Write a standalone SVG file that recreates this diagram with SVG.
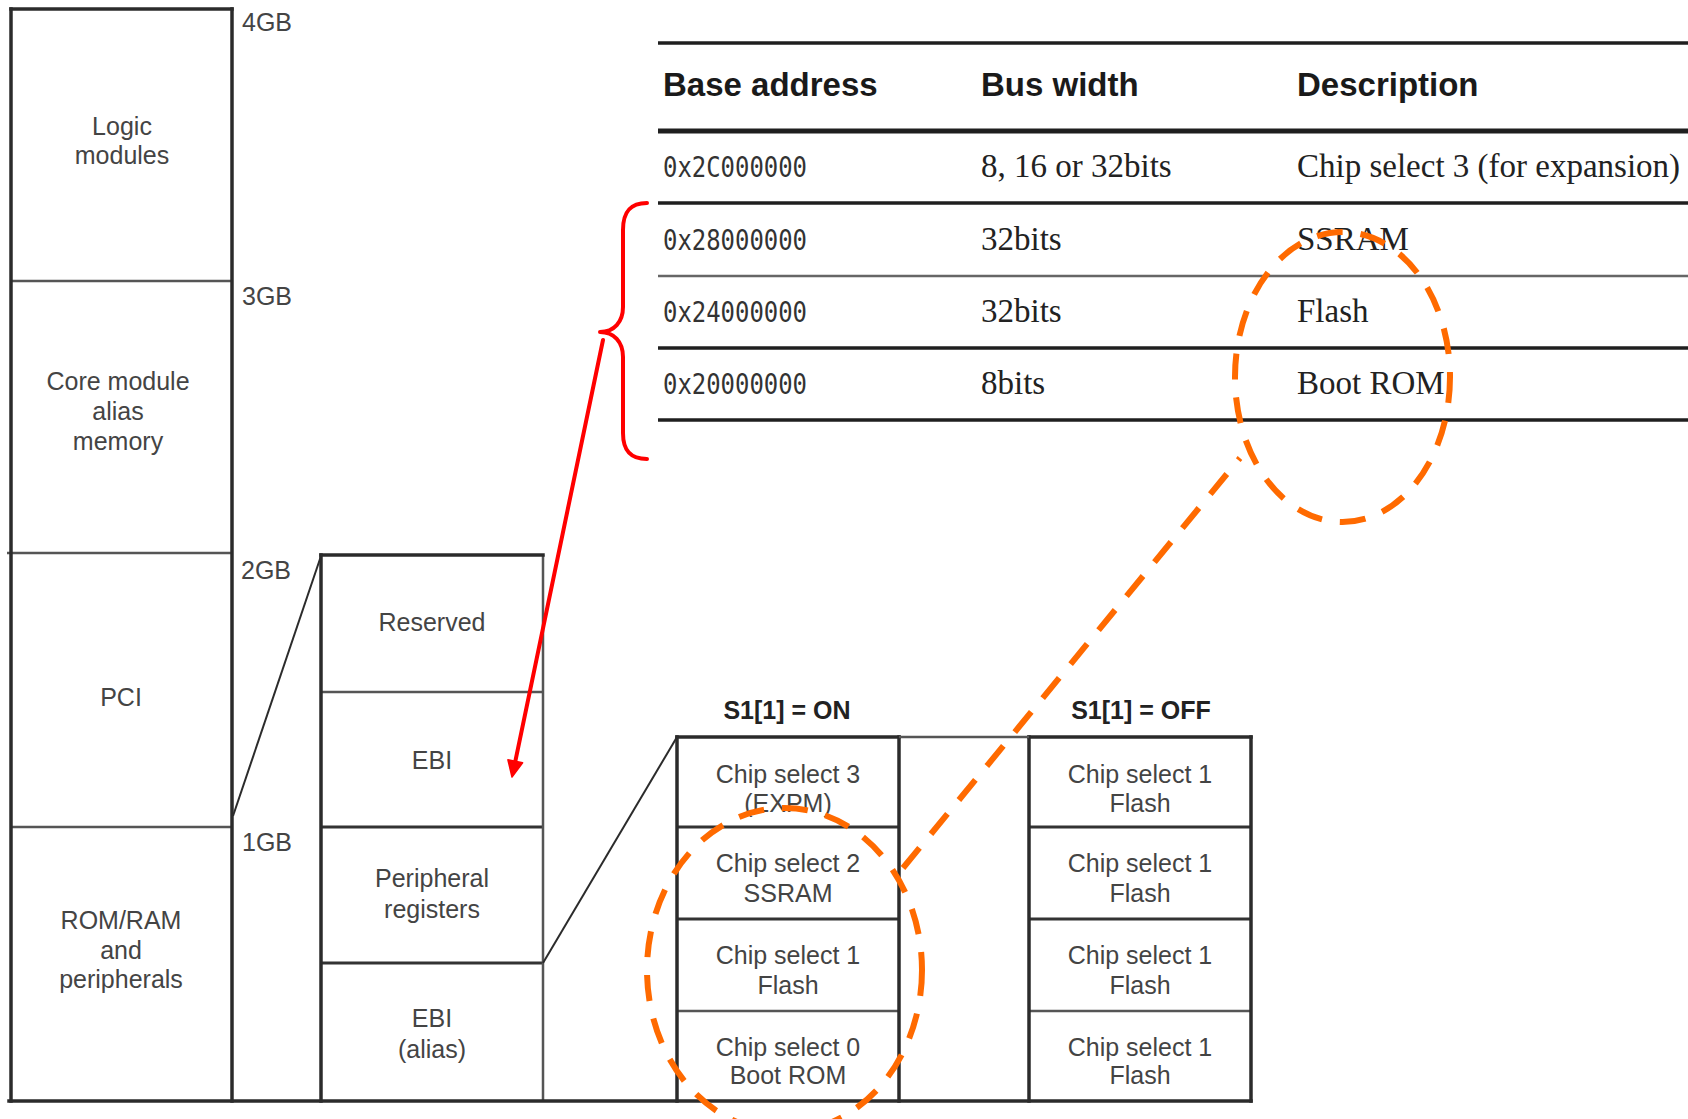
<svg xmlns="http://www.w3.org/2000/svg" width="1688" height="1119" viewBox="0 0 1688 1119">
  <style>
    .bg { fill: #ffffff; }
    .frame { stroke: #2b2b2b; stroke-width: 3.5; fill: none; stroke-linecap: square; }
    .div { stroke: #555555; stroke-width: 2.5; fill: none; }
    .divd { stroke: #333333; stroke-width: 3; fill: none; }
    .thin { stroke: #2b2b2b; stroke-width: 2; fill: none; }
    .lbl { font-family: "Liberation Sans", Arial, sans-serif; font-size: 25px; fill: #444444; text-anchor: middle; }
    .mark { font-family: "Liberation Sans", Arial, sans-serif; font-size: 25px; fill: #444444; }
    .head { font-family: "Liberation Sans", Arial, sans-serif; font-size: 25px; font-weight: bold; fill: #222222; text-anchor: middle; }
    .th { font-family: "Liberation Sans", Arial, sans-serif; font-size: 33px; font-weight: bold; fill: #1a1a1a; }
    .mono { font-family: "DejaVu Sans Mono", "Liberation Mono", monospace; font-size: 28px; fill: #333333; }
    .serif { font-family: "Liberation Serif", "Times New Roman", serif; font-size: 33px; fill: #222222; }
    .rule { stroke: #1f1f1f; stroke-width: 3.5; }
    .rule-thick { stroke: #1f1f1f; stroke-width: 5; }
    .rule-thin { stroke: #666666; stroke-width: 2.5; }
    .red { stroke: #ff0000; stroke-width: 4; fill: none; stroke-linecap: round; stroke-linejoin: round; }
    .orange { stroke: #ff6a00; stroke-width: 6; fill: none; stroke-dasharray: 26 18; }
  </style>

  <rect class="bg" x="0" y="0" width="1688" height="1119"/>

  <!-- Main 4GB memory map -->
  <g id="memory-map">
    <line class="div" x1="11" y1="281" x2="232" y2="281"/>
    <line class="div" x1="7" y1="553" x2="232" y2="553"/>
    <line class="div" x1="11" y1="827" x2="232" y2="827"/>
    <line class="frame" x1="11" y1="9" x2="232" y2="9"/>
    <line class="frame" x1="11" y1="9" x2="11" y2="1101"/>
    <line class="frame" x1="232" y1="9" x2="232" y2="1101"/>
    <text class="mark" x="242" y="31">4GB</text>
    <text class="mark" x="242" y="305">3GB</text>
    <text class="mark" x="241" y="579">2GB</text>
    <text class="mark" x="242" y="851">1GB</text>
  </g>
  <g id="logic-modules">
    <text class="lbl" x="122" y="135">Logic</text>
    <text class="lbl" x="122" y="164">modules</text>
  </g>
  <g id="core-module-alias">
    <text class="lbl" x="118" y="390">Core module</text>
    <text class="lbl" x="118" y="420">alias</text>
    <text class="lbl" x="118" y="450">memory</text>
  </g>
  <g id="pci">
    <text class="lbl" x="121" y="706">PCI</text>
  </g>
  <g id="rom-ram-peripherals">
    <text class="lbl" x="121" y="929">ROM/RAM</text>
    <text class="lbl" x="121" y="959">and</text>
    <text class="lbl" x="121" y="988">peripherals</text>
  </g>

  <!-- Expanded 0-1GB region -->
  <g id="low-region">
    <line class="div" x1="321" y1="692" x2="543" y2="692"/>
    <line class="divd" x1="321" y1="827" x2="543" y2="827"/>
    <line class="divd" x1="321" y1="963" x2="543" y2="963"/>
    <line class="div" x1="543" y1="555" x2="543" y2="1101"/>
    <line class="frame" x1="321" y1="555" x2="543" y2="555"/>
    <line class="frame" x1="321" y1="555" x2="321" y2="1101"/>
  </g>
  <g id="reserved"><text class="lbl" x="432" y="631">Reserved</text></g>
  <g id="ebi"><text class="lbl" x="432" y="769">EBI</text></g>
  <g id="peripheral-registers">
    <text class="lbl" x="432" y="887">Peripheral</text>
    <text class="lbl" x="432" y="918">registers</text>
  </g>
  <g id="ebi-alias">
    <text class="lbl" x="432" y="1027">EBI</text>
    <text class="lbl" x="432" y="1058">(alias)</text>
  </g>

  <!-- Chip select map, S1[1] = ON -->
  <g id="s1-on">
    <text class="head" x="787" y="719">S1[1] = ON</text>
    <line class="divd" x1="677" y1="827" x2="899" y2="827"/>
    <line class="divd" x1="677" y1="919" x2="899" y2="919"/>
    <line class="div" x1="677" y1="1011" x2="899" y2="1011"/>
    <line class="frame" x1="677" y1="737" x2="899" y2="737"/>
    <line class="frame" x1="677" y1="737" x2="677" y2="1101"/>
    <line class="frame" x1="899" y1="737" x2="899" y2="1101"/>
    <text class="lbl" x="788" y="783">Chip select 3</text>
    <text class="lbl" x="788" y="812">(EXPM)</text>
    <text class="lbl" x="788" y="872">Chip select 2</text>
    <text class="lbl" x="788" y="902">SSRAM</text>
    <text class="lbl" x="788" y="964">Chip select 1</text>
    <text class="lbl" x="788" y="994">Flash</text>
    <text class="lbl" x="788" y="1056">Chip select 0</text>
    <text class="lbl" x="788" y="1084">Boot ROM</text>
  </g>

  <!-- Chip select map, S1[1] = OFF -->
  <g id="s1-off">
    <text class="head" x="1141" y="719">S1[1] = OFF</text>
    <line class="divd" x1="1029" y1="827" x2="1251" y2="827"/>
    <line class="divd" x1="1029" y1="919" x2="1251" y2="919"/>
    <line class="div" x1="1029" y1="1011" x2="1251" y2="1011"/>
    <line class="frame" x1="1029" y1="737" x2="1251" y2="737"/>
    <line class="frame" x1="1029" y1="737" x2="1029" y2="1101"/>
    <line class="frame" x1="1251" y1="737" x2="1251" y2="1101"/>
    <text class="lbl" x="1140" y="783">Chip select 1</text>
    <text class="lbl" x="1140" y="812">Flash</text>
    <text class="lbl" x="1140" y="872">Chip select 1</text>
    <text class="lbl" x="1140" y="902">Flash</text>
    <text class="lbl" x="1140" y="964">Chip select 1</text>
    <text class="lbl" x="1140" y="994">Flash</text>
    <text class="lbl" x="1140" y="1056">Chip select 1</text>
    <text class="lbl" x="1140" y="1084">Flash</text>
  </g>

  <!-- EBI address table -->
  <g id="ebi-table">
    <line class="rule" x1="658" y1="43" x2="1688" y2="43"/>
    <line class="rule-thick" x1="658" y1="131" x2="1688" y2="131"/>
    <line class="rule" x1="658" y1="203" x2="1688" y2="203"/>
    <line class="rule-thin" x1="658" y1="276" x2="1688" y2="276"/>
    <line class="rule" x1="658" y1="348" x2="1688" y2="348"/>
    <line class="rule" x1="658" y1="420" x2="1688" y2="420"/>
    <text class="th" x="663" y="96">Base address</text>
    <text class="th" x="981" y="96">Bus width</text>
    <text class="th" x="1297" y="96">Description</text>
    <text class="mono" x="663" y="177" textLength="144" lengthAdjust="spacingAndGlyphs">0x2C000000</text>
    <text class="mono" x="663" y="250" textLength="144" lengthAdjust="spacingAndGlyphs">0x28000000</text>
    <text class="mono" x="663" y="322" textLength="144" lengthAdjust="spacingAndGlyphs">0x24000000</text>
    <text class="mono" x="663" y="394" textLength="144" lengthAdjust="spacingAndGlyphs">0x20000000</text>
    <text class="serif" x="981" y="177">8, 16 or 32bits</text>
    <text class="serif" x="981" y="250">32bits</text>
    <text class="serif" x="981" y="322">32bits</text>
    <text class="serif" x="981" y="394">8bits</text>
    <text class="serif" x="1297" y="177">Chip select 3 (for expansion)</text>
    <text class="serif" x="1297" y="250">SSRAM</text>
    <text class="serif" x="1297" y="322">Flash</text>
    <text class="serif" x="1297" y="394">Boot ROM</text>
  </g>

  <!-- Connectors and annotations -->
  <g id="connectors">
    <line class="frame" x1="9" y1="1101" x2="1251" y2="1101"/>
    <line class="div" x1="899" y1="737" x2="1029" y2="737"/>
    <line class="thin" x1="233" y1="816" x2="321" y2="556"/>
    <line class="thin" x1="543" y1="963" x2="677" y2="737"/>
    <path class="red" d="M647,203 C630,203 623,212 623,230 L623,307 C623,322 614,332 600,332 C614,332 623,342 623,357 L623,433 C623,450 630,459 647,459"/>
    <line class="red" x1="603" y1="340" x2="515.3" y2="761.3"/>
    <polygon points="512,777 522.6,762.8 507.9,759.8" fill="#ff0000" stroke="#ff0000" stroke-width="1.5" stroke-linejoin="round"/>
    <ellipse class="orange" cx="1342.5" cy="377" rx="107.5" ry="145"/>
    <ellipse class="orange" cx="784.5" cy="970" rx="137.5" ry="162"/>
    <line class="orange" x1="903" y1="868" x2="1240" y2="458"/>
  </g>
</svg>
